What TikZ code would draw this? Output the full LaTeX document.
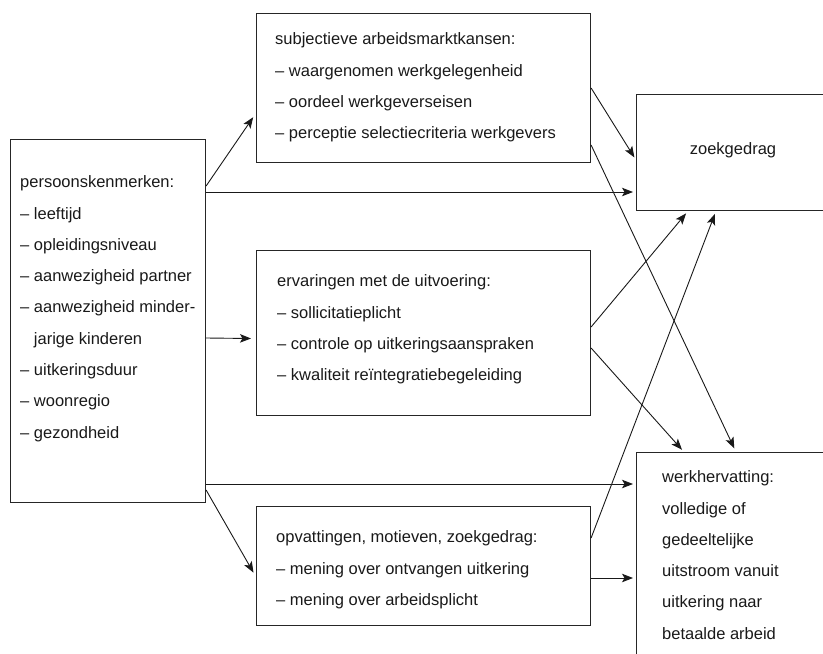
\documentclass[tikz,border=0pt]{standalone}
\usepackage{fontspec}
\setmainfont{Liberation Sans}
\usetikzlibrary{arrows.meta}
\begin{document}
\begin{tikzpicture}[x=1pt,y=-1pt,
  box/.style={draw=black!85, line width=1.1pt, rectangle, inner sep=0pt, anchor=north west},
  boxtext/.style={anchor=north west, inner sep=0pt, align=left,
    font=\fontsize{16.5}{31.3}\selectfont, text=black!90},
  link/.style={draw=black!90, line width=0.9pt,
    -{Stealth[length=11pt,width=8.5pt,inset=2.5pt]}, shorten >=3pt},
]
\useasboundingbox (0,0) rectangle (823,654);
\clip (0,0) rectangle (823,654);

% boxes
\node[box, minimum width=195pt, minimum height=363pt] (pk) at (10,139) {};
\node[box, minimum width=334pt, minimum height=149pt] (sa) at (256,13) {};
\node[box, minimum width=334pt, minimum height=165pt] (ev) at (256,250) {};
\node[box, minimum width=334pt, minimum height=119pt] (op) at (256,506) {};
\node[box, minimum width=260pt, minimum height=116pt] (zg) at (636,94) {};
\node[box, minimum width=260pt, minimum height=260pt] (wh) at (636,452) {};

% box contents
\node[boxtext] (pktext) at (20,175.6) {persoonskenmerken:\\
  – leeftijd\\
  – opleidingsniveau\\
  – aanwezigheid partner\\
  – aanwezigheid minder-\\
  \phantom{– }jarige kinderen\\
  – uitkeringsduur\\
  – woonregio\\
  – gezondheid};
\node[boxtext] (satext) at (275,32.6) {subjectieve arbeidsmarktkansen:\\
  – waargenomen werkgelegenheid\\
  – oordeel werkgeverseisen\\
  – perceptie selectiecriteria werkgevers};
\node[boxtext] (evtext) at (277,274.6) {ervaringen met de uitvoering:\\
  – sollicitatieplicht\\
  – controle op uitkeringsaanspraken\\
  – kwaliteit reïntegratiebegeleiding};
\node[boxtext] (optext) at (276,530.6) {opvattingen, motieven, zoekgedrag:\\
  – mening over ontvangen uitkering\\
  – mening over arbeidsplicht};
\node[boxtext, anchor=base] (zgtext) at (733,154) {zoekgedrag};
\node[boxtext] (whtext) at (662,470.6) {werkhervatting:\\
  volledige of\\
  gedeeltelijke\\
  uitstroom vanuit\\
  uitkering naar\\
  betaalde arbeid};

% connectors
\draw[link, shorten >=5pt] ([yshift=-47pt]pk.north east) -- ([yshift=50pt]sa.south west);
\draw[link] ([yshift=-53pt]pk.north east) -- ([yshift=-98pt]zg.north west);
\draw[link, shorten >=5pt] ([yshift=-199pt]pk.north east) -- ([yshift=-5.5pt]ev.west);
\draw[link] ([yshift=-345pt]pk.north east) -- ([yshift=-32pt]wh.north west);
\draw[link, shorten >=5pt] ([yshift=-351pt]pk.north east) -- ([yshift=-71pt]op.north west);
\draw[link] ([yshift=-75pt]sa.north east) -- ([yshift=-66pt]zg.north west);
\draw[link, shorten >=4pt] ([yshift=-132pt]sa.north east) -- ([xshift=100pt]wh.north west);
\draw[link] ([yshift=-77pt]ev.north east) -- ([xshift=52pt]zg.south west);
\draw[link] ([yshift=-98pt]ev.north east) -- ([xshift=48pt]wh.north west);
\draw[link] ([yshift=-32pt]op.north east) -- ([xshift=80pt]zg.south west);
\draw[link] ([yshift=-72pt]op.north east) -- ([yshift=-126pt]wh.north west);
\end{tikzpicture}
\end{document}
